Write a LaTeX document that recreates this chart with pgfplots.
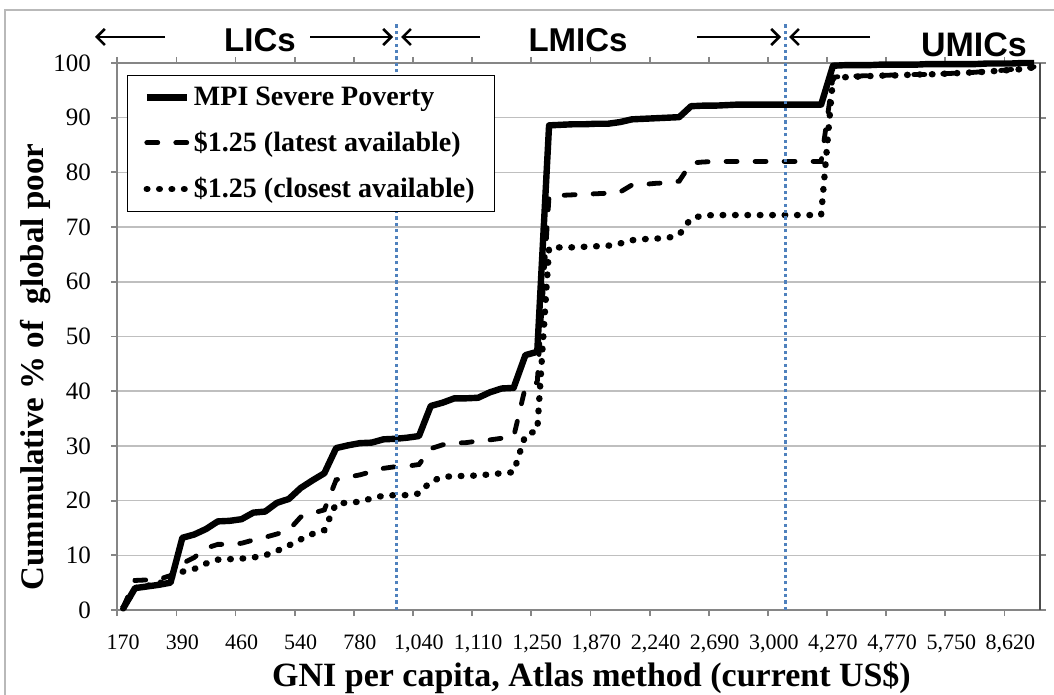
\documentclass[border=0pt]{standalone}
\usepackage{pgfplots}
\pgfplotsset{compat=1.18}
\usepackage{pgfplotstable}
\usepackage{fontspec}
\setmainfont{Liberation Serif}
\newfontfamily\headfont{Liberation Sans}
\usetikzlibrary{arrows.meta}
\definecolor{gridgray}{RGB}{191,191,191}
\definecolor{axgray}{RGB}{134,134,134}
\definecolor{xlblue}{RGB}{79,129,189}

\pgfplotstableread{
k mpi lat clo
1 0.3 0.5 0.3
2 4.0 5.4 4.0
3 4.3 5.5 4.4
4 4.6 5.6 4.8
5 5.0 6.3 5.9
6 13.2 8.5 7.0
7 13.8 9.6 7.5
8 14.8 11.3 8.5
9 16.2 12.0 9.2
10 16.3 12.0 9.3
11 16.6 12.2 9.4
12 17.8 12.8 9.6
13 18.0 13.3 10.0
14 19.6 13.9 10.8
15 20.3 14.6 11.8
16 22.3 17.0 12.9
17 23.7 17.7 13.9
18 25.0 18.3 14.6
19 29.6 23.8 19.5
20 30.1 24.3 19.6
21 30.5 24.7 19.8
22 30.6 25.3 20.4
23 31.2 25.9 20.9
24 31.3 26.2 21.0
25 31.5 26.3 21.0
26 31.8 26.6 21.3
27 37.3 29.5 23.5
28 37.9 30.2 24.3
29 38.7 30.5 24.5
30 38.7 30.6 24.5
31 38.8 30.9 24.6
32 39.8 31.1 24.8
33 40.5 31.4 25.0
34 40.6 31.6 25.2
35 46.6 40.8 32.0
36 47.2 41.6 32.8
37 88.6 75.7 66.2
38 88.7 75.8 66.3
39 88.8 75.9 66.3
40 88.8 76.0 66.4
41 88.9 76.1 66.5
42 88.9 76.2 66.6
43 89.2 76.4 67.0
44 89.7 77.7 67.6
45 89.8 77.8 67.8
46 89.9 78.0 67.9
47 90.0 78.1 68.0
48 90.1 78.4 68.6
49 92.1 81.7 71.6
50 92.2 81.9 72.1
51 92.2 82.0 72.2
52 92.3 82.0 72.2
53 92.4 82.0 72.2
54 92.4 82.0 72.2
55 92.4 82.0 72.2
56 92.4 82.0 72.2
57 92.4 82.0 72.2
58 92.4 82.0 72.2
59 92.4 82.0 72.2
60 92.4 82.0 72.2
61 99.5 97.4 97.2
62 99.6 97.6 97.4
63 99.6 97.6 97.5
64 99.6 97.7 97.6
65 99.7 97.7 97.7
66 99.7 97.8 97.7
67 99.7 97.8 97.8
68 99.7 97.9 97.9
69 99.8 97.9 97.9
70 99.8 98.0 98.0
71 99.8 98.1 98.1
72 99.8 98.2 98.2
73 99.8 98.3 98.3
74 99.9 98.5 98.4
75 99.9 98.6 98.6
76 99.9 98.8 98.7
77 100 99.0 98.9
78 100 99.3 99.2
}\datatable

\begin{document}
\begin{tikzpicture}
\useasboundingbox (0,0) rectangle (527pt,-347.5pt);
\draw[gray!55, line width=0.75pt] (2.5pt,-347.5pt) -- (2.5pt,-5pt) -- (527pt,-5pt);
\begin{axis}[
  at={(58.65pt,-305pt)}, anchor=south west,
  width=461.35pt, height=273.5pt, scale only axis,
  xmin=0.5, xmax=78.5, ymin=0, ymax=100,
  xtick={0.5,5.5,10.5,15.5,20.5,25.5,30.5,35.5,40.5,45.5,50.5,55.5,60.5,65.5,70.5,75.5},
  xticklabels={170,390,460,540,780,{1,040},{1,110},{1,250},{1,870},{2,240},{2,690},{3,000},{4,270},{4,770},{5,750},{8,620}},
  ytick={0,10,...,100},
  tick align=outside,
  major tick length=3pt,
  tick style={axgray, line width=0.9pt},
  axis line style={axgray, line width=1pt},
  ymajorgrids, grid style={gridgray, line width=0.8pt},
  /pgf/number format/assume math mode=true,
  yticklabel style={font=\fontsize{12.5}{12.5}\selectfont, anchor=east, inner sep=0pt, xshift=-10pt},
  xticklabel style={font=\fontsize{11}{11}\selectfont, anchor=north, inner sep=0pt, xshift=2.96pt, yshift=-9pt},
  clip=false,
  legend cell align=left,
  legend style={at={(0.0105,0.978)}, anchor=north west, draw=black, line width=0.6pt,
    font=\bfseries\fontsize{14}{14}\selectfont, inner xsep=8pt, inner ysep=3.5pt, row sep=7.5pt},
  legend image code/.code={\draw[#1] (0pt,0pt) -- (20pt,0pt);},
]
\addplot[black, line width=3.2pt, line join=round] table[x=k, y=mpi] {\datatable};
\addlegendentry{MPI Severe Poverty}
\addplot[black, line width=2.4pt, line cap=round, dash pattern=on 5.5pt off 9pt] table[x=k, y=lat] {\datatable};
\addlegendentry{\$1.25 (latest available)}
\addplot[black, line width=3.2pt, line cap=round, dash pattern=on 0.3pt off 5.9pt] table[x=k, y=clo] {\datatable};
\addlegendentry{\$1.25 (closest available)}
\draw[xlblue, line width=1.8pt, dash pattern=on 1.6pt off 1.6pt] (axis cs:24.1,0) -- (axis cs:24.1,107.5);
\draw[xlblue, line width=1.8pt, dash pattern=on 1.6pt off 1.6pt] (axis cs:57,0) -- (axis cs:57,107.5);
\draw[black!70, line width=0.9pt] (rel axis cs:1,0) -- (rel axis cs:1,1);
\end{axis}
% header
\node[font=\headfont\bfseries\fontsize{16.5}{16.5}\selectfont] at (130pt,-20pt) {LICs};
\node[font=\headfont\bfseries\fontsize{16.5}{16.5}\selectfont] at (289pt,-20pt) {LMICs};
\node[font=\headfont\bfseries\fontsize{17}{17}\selectfont] at (487pt,-22.5pt) {UMICs};
\draw[line width=1.3pt, -{Straight Barb[length=4pt,width=8pt]}] (82.5pt,-18.5pt) -- (47.5pt,-18.5pt);
\draw[line width=1.3pt, -{Straight Barb[length=4pt,width=8pt]}] (155pt,-18.5pt) -- (196.5pt,-18.5pt);
\draw[line width=1.3pt, -{Straight Barb[length=4pt,width=8pt]}] (240pt,-18.5pt) -- (200.5pt,-18.5pt);
\draw[line width=1.3pt, -{Straight Barb[length=4pt,width=8pt]}] (348.5pt,-18.5pt) -- (390.5pt,-18.5pt);
\draw[line width=1.3pt, -{Straight Barb[length=4pt,width=8pt]}] (435pt,-18.5pt) -- (394.5pt,-18.5pt);
% axis titles
\node[font=\bfseries\fontsize{17}{17}\selectfont, anchor=base] at (295.75pt,-343pt) {GNI per capita, Atlas method (current US\$)};
\node[font=\bfseries\fontsize{16.5}{16.5}\selectfont, anchor=base, rotate=90] at (21.5pt,-183.5pt) {Cummulative \% of~~global poor};
\end{tikzpicture}
\end{document}
